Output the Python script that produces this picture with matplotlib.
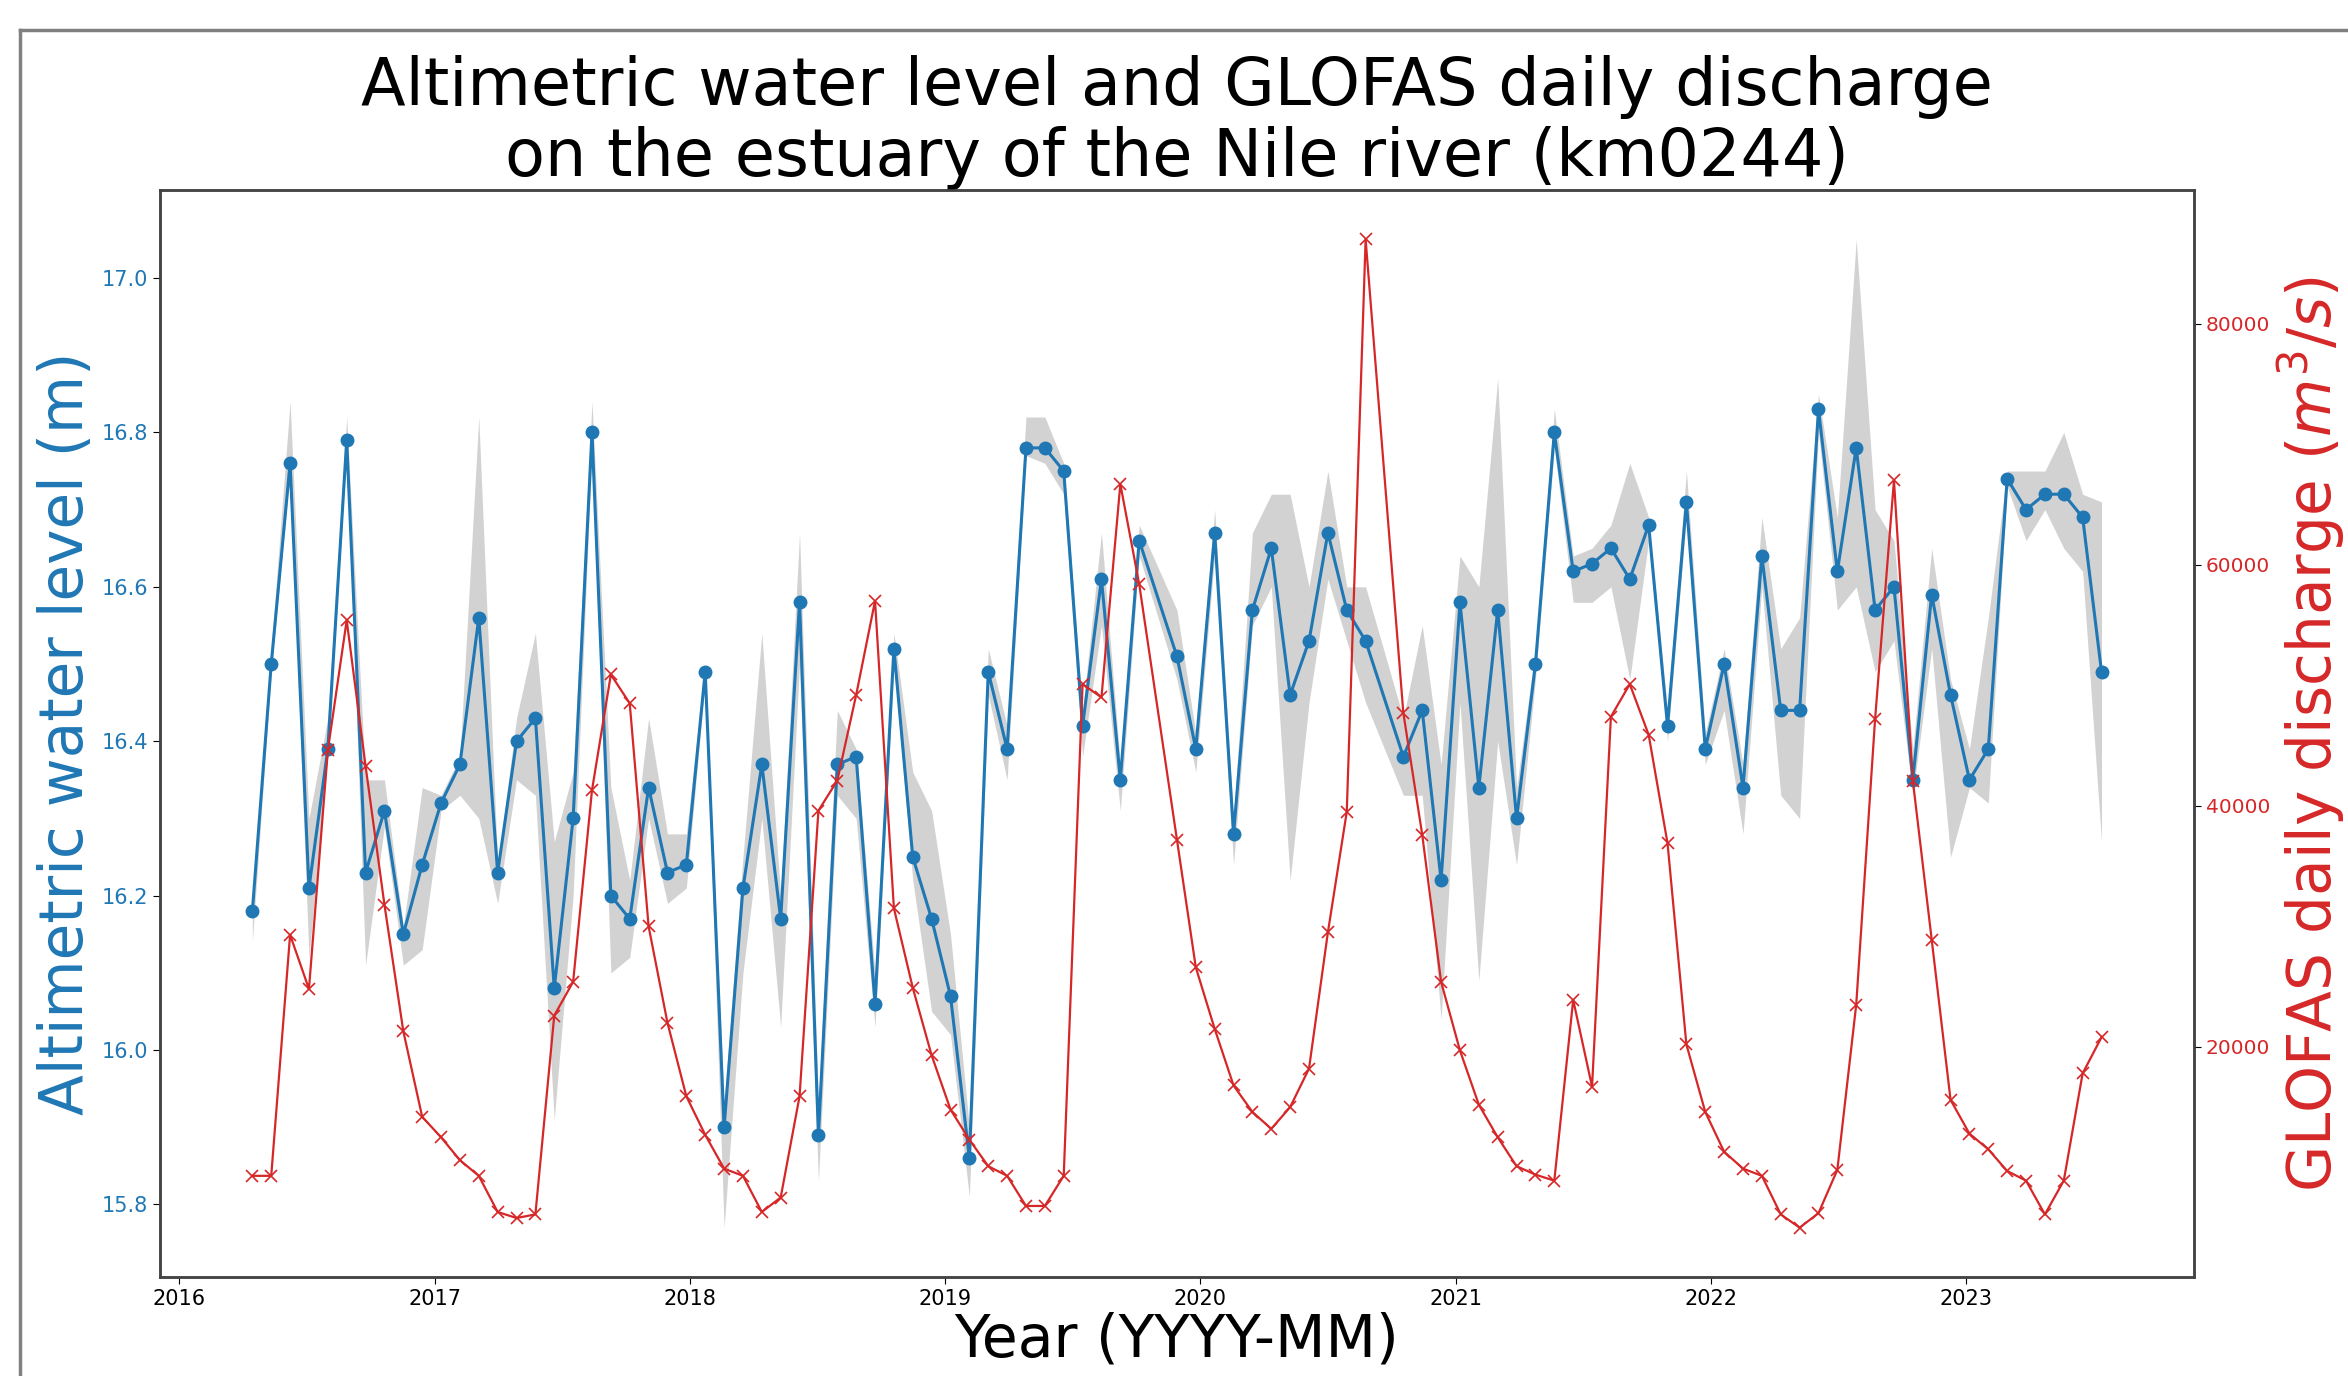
import numpy as np
import pandas as pd
import matplotlib
matplotlib.use("Agg")
import matplotlib.pyplot as plt
import matplotlib.dates as mdates
from matplotlib.lines import Line2D

# Sentinel-3 passes (27 day repeat, two passes missing)
dates = ["2016-04-15", "2016-05-12", "2016-06-08", "2016-07-05", "2016-08-01", "2016-08-28",
         "2016-09-24", "2016-10-21", "2016-11-17", "2016-12-14", "2017-01-10", "2017-02-06",
         "2017-03-05", "2017-04-01", "2017-04-28", "2017-05-25", "2017-06-21", "2017-07-18",
         "2017-08-14", "2017-09-10", "2017-10-07", "2017-11-03", "2017-11-30", "2017-12-27",
         "2018-01-23", "2018-02-19", "2018-03-18", "2018-04-14", "2018-05-11", "2018-06-07",
         "2018-07-04", "2018-07-31", "2018-08-27", "2018-09-23", "2018-10-20", "2018-11-16",
         "2018-12-13", "2019-01-09", "2019-02-05", "2019-03-04", "2019-03-31", "2019-04-27",
         "2019-05-24", "2019-06-20", "2019-07-17", "2019-08-13", "2019-09-09", "2019-10-06",
         "2019-11-29", "2019-12-26", "2020-01-22", "2020-02-18", "2020-03-16", "2020-04-12",
         "2020-05-09", "2020-06-05", "2020-07-02", "2020-07-29", "2020-08-25",
         "2020-10-18", "2020-11-14", "2020-12-11", "2021-01-07", "2021-02-03", "2021-03-02",
         "2021-03-29", "2021-04-25", "2021-05-22", "2021-06-18", "2021-07-15", "2021-08-11",
         "2021-09-07", "2021-10-04", "2021-10-31", "2021-11-27", "2021-12-24", "2022-01-20",
         "2022-02-16", "2022-03-15", "2022-04-11", "2022-05-08", "2022-06-04", "2022-07-01",
         "2022-07-28", "2022-08-24", "2022-09-20", "2022-10-17", "2022-11-13", "2022-12-10",
         "2023-01-06", "2023-02-02", "2023-03-01", "2023-03-28", "2023-04-24", "2023-05-21",
         "2023-06-17", "2023-07-14"]

level = [16.18, 16.50, 16.76, 16.21, 16.39, 16.79, 16.23, 16.31, 16.15, 16.24, 16.32, 16.37,
         16.56, 16.23, 16.40, 16.43, 16.08, 16.30, 16.80, 16.20, 16.17, 16.34, 16.23, 16.24,
         16.49, 15.90, 16.21, 16.37, 16.17, 16.58, 15.89, 16.37, 16.38, 16.06, 16.52, 16.25,
         16.17, 16.07, 15.86, 16.49, 16.39, 16.78, 16.78, 16.75, 16.42, 16.61, 16.35, 16.66,
         16.51, 16.39, 16.67, 16.28, 16.57, 16.65, 16.46, 16.53, 16.67, 16.57, 16.53,
         16.38, 16.44, 16.22, 16.58, 16.34, 16.57, 16.30, 16.50, 16.80, 16.62, 16.63, 16.65,
         16.61, 16.68, 16.42, 16.71, 16.39, 16.50, 16.34, 16.64, 16.44, 16.44, 16.83, 16.62,
         16.78, 16.57, 16.60, 16.35, 16.59, 16.46, 16.35, 16.39, 16.74, 16.70, 16.72, 16.72,
         16.69, 16.49]

level_hi = [16.19, 16.52, 16.84, 16.30, 16.43, 16.82, 16.35, 16.35, 16.16, 16.34, 16.33, 16.38,
            16.82, 16.24, 16.43, 16.54, 16.27, 16.36, 16.84, 16.34, 16.22, 16.43, 16.28, 16.28,
            16.50, 15.93, 16.25, 16.54, 16.20, 16.67, 15.93, 16.44, 16.39, 16.10, 16.54, 16.36,
            16.31, 16.15, 15.90, 16.52, 16.42, 16.82, 16.82, 16.76, 16.44, 16.67, 16.37, 16.68,
            16.57, 16.41, 16.70, 16.30, 16.67, 16.72, 16.72, 16.60, 16.75, 16.60, 16.60,
            16.43, 16.55, 16.37, 16.64, 16.60, 16.87, 16.34, 16.52, 16.83, 16.64, 16.65, 16.68,
            16.76, 16.69, 16.44, 16.75, 16.41, 16.52, 16.37, 16.69, 16.52, 16.56, 16.85, 16.69,
            17.05, 16.70, 16.66, 16.39, 16.65, 16.48, 16.39, 16.56, 16.75, 16.75, 16.75, 16.80,
            16.72, 16.71]

level_lo = [16.14, 16.49, 16.75, 16.12, 16.38, 16.78, 16.11, 16.29, 16.11, 16.13, 16.31, 16.33,
            16.30, 16.19, 16.35, 16.33, 15.91, 16.20, 16.78, 16.10, 16.12, 16.30, 16.19, 16.21,
            16.48, 15.77, 16.10, 16.30, 16.03, 16.50, 15.83, 16.33, 16.30, 16.03, 16.50, 16.22,
            16.05, 16.02, 15.81, 16.46, 16.35, 16.77, 16.76, 16.72, 16.38, 16.55, 16.31, 16.64,
            16.48, 16.36, 16.64, 16.24, 16.55, 16.60, 16.22, 16.45, 16.61, 16.53, 16.45,
            16.33, 16.33, 16.04, 16.45, 16.09, 16.40, 16.24, 16.48, 16.78, 16.58, 16.58, 16.60,
            16.48, 16.66, 16.40, 16.69, 16.37, 16.44, 16.28, 16.60, 16.33, 16.30, 16.80, 16.57,
            16.60, 16.49, 16.53, 16.33, 16.52, 16.25, 16.34, 16.32, 16.73, 16.66, 16.70, 16.65,
            16.62, 16.27]

discharge = [9300, 9300, 29300, 24800, 44600, 55400, 43300, 31800, 21300, 14200, 12500, 10600,
             9300, 6300, 5800, 6100, 22600, 25400, 41300, 50900, 48500, 30000, 22000, 15900,
             12700, 9900, 9300, 6300, 7500, 15900, 39600, 42100, 49200, 57000, 31500, 24900,
             19300, 14800, 12300, 10100, 9300, 6800, 6800, 9300, 50100, 49000, 66700, 58400,
             37200, 26600, 21500, 16800, 14600, 13200, 15000, 18200, 29500, 39500, 87000,
             47700, 37600, 25400, 19700, 15200, 12500, 10100, 9400, 8900, 23900, 16700, 47400,
             50100, 45900, 36900, 20200, 14600, 11300, 9900, 9300, 6100, 5000, 6200, 9800,
             23500, 47200, 67000, 42100, 28900, 15600, 12800, 11500, 9700, 8900, 6100, 8900,
             17800, 20800]

t = pd.to_datetime(dates)
blue = '#1f77b4'
red = '#d62728'

fig = plt.figure(figsize=(23.48, 13.76), dpi=100)
ax = fig.add_axes([0.0681, 0.0719, 0.8663, 0.79])

ax.fill_between(t, level_lo, level_hi, color='grey', alpha=0.35, linewidth=0)
ax.plot(t, level, color=blue, marker='o', markersize=9, linewidth=2.2)
ax.set_ylabel('Altimetric water level (m)', color=blue, fontsize=43)
ax.tick_params(axis='y', labelcolor=blue, labelsize=15, length=5)
ax.tick_params(axis='x', labelsize=15, length=5)
ax.xaxis.set_major_locator(mdates.YearLocator())
ax.xaxis.set_major_formatter(mdates.DateFormatter('%Y'))
ax.set_xlabel('Year (YYYY-MM)', fontsize=42, labelpad=2)

ax2 = ax.twinx()
ax2.plot(t, discharge, color=red, marker='x', markersize=9, linewidth=1.6, markeredgewidth=1.2)
ax2.set_ylabel('GLOFAS daily discharge ($m^3/s$)', color=red, fontsize=43)
ax2.tick_params(axis='y', labelcolor=red, labelsize=14.5, length=5)

for a in (ax, ax2):
    for s in a.spines.values():
        s.set_linewidth(1.8)
        s.set_color('#444444')

ax.set_title('Altimetric water level and GLOFAS daily discharge\non the estuary of the Nile river (km0244)',
             fontsize=47, pad=0, linespacing=1.15)

# thin frame around the figure like in the screenshot
fig.add_artist(Line2D([0.0085, 0.0085], [0, 0.978], color='#808080', linewidth=2.5))
fig.add_artist(Line2D([0.0085, 1], [0.978, 0.978], color='#808080', linewidth=2.5))

fig.savefig('out.png', dpi=100)
